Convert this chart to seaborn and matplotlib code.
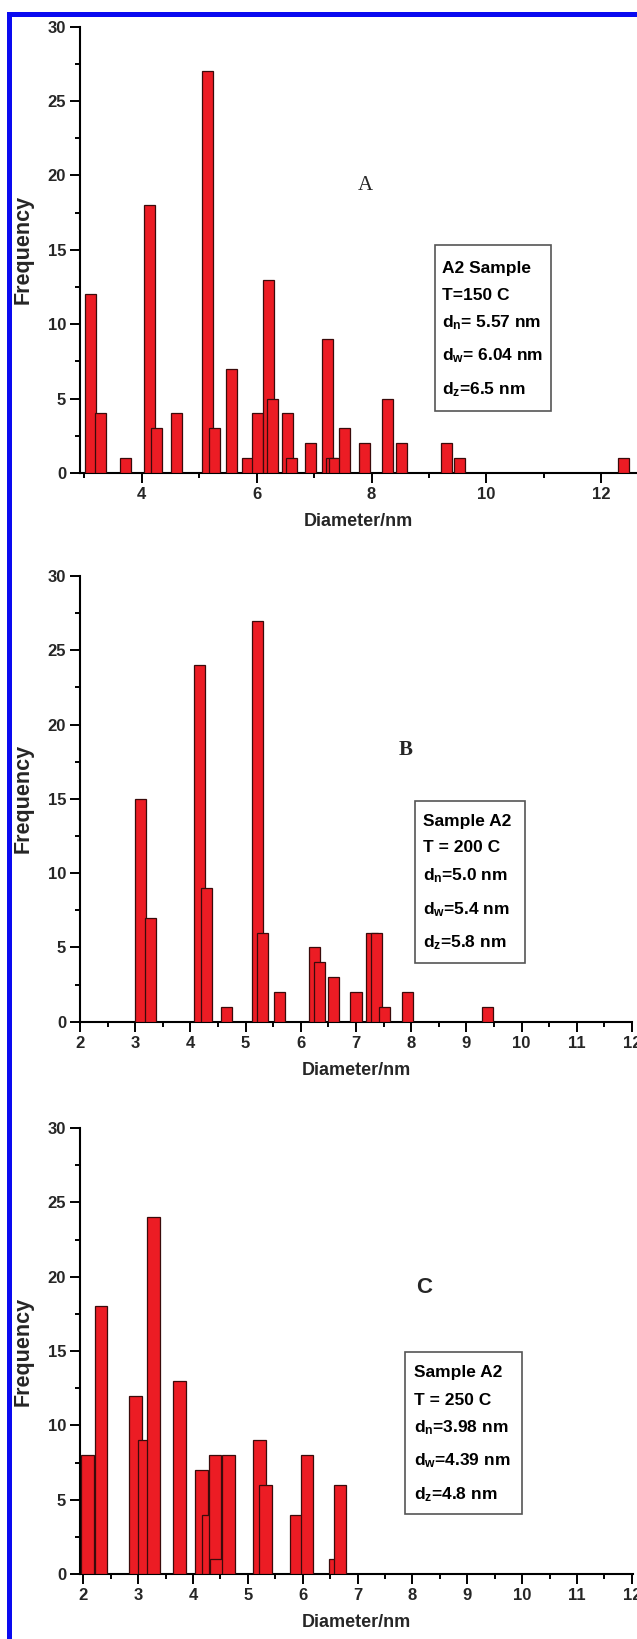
import numpy as np
import matplotlib
matplotlib.use("Agg")
import matplotlib.pyplot as plt
import matplotlib.patches as mpatches
import seaborn as sns

# ---------------- data ----------------
# Panel A (T=150 C)
a_centers = [3.11, 3.28, 3.72, 4.13, 4.26, 4.61, 5.15, 5.27, 5.56, 5.84, 6.02, 6.21, 6.28,
             6.53, 6.61, 6.93, 7.23, 7.31, 7.36, 7.53, 7.87, 8.27, 8.52, 9.31, 9.53, 12.39]
a_counts = [12, 4, 1, 18, 3, 4, 27, 3, 7, 1, 4, 13, 5,
            4, 1, 2, 9, 1, 1, 3, 2, 5, 2, 2, 1, 1]
# Panel B (T=200 C)
b_centers = [3.10, 3.27, 4.16, 4.29, 4.65, 5.21, 5.31, 5.61, 6.25, 6.34, 6.59, 7.00,
             7.29, 7.38, 7.51, 7.93, 9.38]
b_counts = [15, 7, 24, 9, 1, 27, 6, 2, 5, 4, 3, 2, 6, 6, 1, 2, 1]
# Panel C (T=250 C)
c_centers = [2.08, 2.32, 2.95, 3.12, 3.28, 3.75, 4.15, 4.27, 4.40, 4.43, 4.65, 5.21, 5.32,
             5.88, 6.08, 6.60, 6.68]
c_counts = [8, 18, 12, 9, 24, 13, 7, 4, 8, 1, 8, 9, 6, 4, 8, 1, 6]

a_info = ["A2 Sample", "T=150 C", r"d$_n$= 5.57 nm", r"d$_w$= 6.04 nm", r"d$_z$=6.5 nm"]
b_info = ["Sample A2", "T = 200 C", r"d$_n$=5.0 nm", r"d$_w$=5.4 nm", r"d$_z$=5.8 nm"]
c_info = ["Sample A2", "T = 250 C", r"d$_n$=3.98 nm", r"d$_w$=4.39 nm", r"d$_z$=4.8 nm"]

x_label = "Diameter/nm"
y_label = "Frequency"

# ---------------- style ----------------
sns.set_theme(style="ticks")
plt.rcParams["font.family"] = ["Liberation Sans", "DejaVu Sans"]
plt.rcParams["font.weight"] = "bold"
plt.rcParams["mathtext.fontset"] = "custom"
plt.rcParams["mathtext.rm"] = "Liberation Sans:bold"
plt.rcParams["mathtext.it"] = "Liberation Sans:bold"
plt.rcParams["mathtext.bf"] = "Liberation Sans:bold"

W, H = 637, 1639
fig = plt.figure(figsize=(W / 100, H / 100), dpi=100)
fig.patch.set_facecolor("white")

BAR = "#EC1C24"
EDGE = "#3a0b0b"


def make_axes(left, right, y0, y30):
    return fig.add_axes([left / W, 1 - y0 / H, (right - left) / W, (y0 - y30) / H])


def style_axes(ax, xlim, major, minor, box, info, xtext):
    ax.set_xlim(*xlim)
    ax.set_ylim(0, 30)
    for s in ["top", "right"]:
        ax.spines[s].set_visible(False)
    for s in ["left", "bottom"]:
        ax.spines[s].set_linewidth(1.5)
        ax.spines[s].set_color("black")
    ax.set_facecolor("white")
    ax.set_yticks(np.arange(0, 31, 5))
    ax.set_yticks(np.arange(0, 30.1, 2.5), minor=True)
    ax.set_xticks(major)
    ax.set_xticks(minor, minor=True)
    ax.tick_params(axis="both", which="major", direction="out", length=7, width=1.4,
                   labelsize=12, color="black", pad=3)
    ax.tick_params(axis="both", which="minor", direction="out", length=3.5, width=1.4,
                   color="black")
    for lab in ax.get_xticklabels() + ax.get_yticklabels():
        lab.set_fontweight("bold")
    ax.set_xlabel(x_label, fontsize=13, fontweight="bold")
    ax.set_ylabel(y_label, fontsize=15.5, fontweight="bold")
    ax.yaxis.set_label_coords(-0.084, 0.5)
    ax.xaxis.set_label_coords(0.5, -0.09)
    ax.grid(False)
    # info box
    (bx0, bx1, by0, by1) = box
    rect = mpatches.Rectangle((bx0, by0), bx1 - bx0, by1 - by0, transform=ax.transData,
                              facecolor="white", edgecolor="#555555", linewidth=1.2,
                              zorder=5)
    ax.add_patch(rect)
    tx, ys = xtext
    for line, yy in zip(info, ys):
        ax.text(tx, yy, line, fontsize=12.5, fontweight="bold", va="baseline",
                ha="left", zorder=6, color="black")


def draw_bars(ax, centers, counts, width):
    ax.bar(centers, counts, width=width, color=BAR, edgecolor=EDGE, linewidth=0.9,
           align="center", zorder=3)


# Panel A
axA = make_axes(80, 637, 473, 26.7)
draw_bars(axA, a_centers, a_counts, 0.19)
style_axes(axA, (2.925, 12.62), [4, 6, 8, 10, 12], [3, 5, 7, 9, 11],
           (9.1, 11.12, 4.2, 15.3), a_info, (9.23, [13.45, 11.6, 9.8, 7.6, 5.3]))
axA.text(7.89, 19.3, "A", fontsize=15, family="Liberation Serif", fontweight="normal",
         ha="center", va="center")

# Panel B
axB = make_axes(80, 632, 1021.7, 576)
draw_bars(axB, b_centers, b_counts, 0.20)
style_axes(axB, (2, 12), list(range(2, 13)), list(np.arange(2.5, 12, 1.0)),
           (8.07, 10.07, 3.92, 14.84), b_info, (8.21, [13.15, 11.4, 9.55, 7.25, 5.0]))
axB.text(7.9, 18.3, "B", fontsize=15, family="Liberation Serif", fontweight="bold",
         ha="center", va="center")

# Panel C
axC = make_axes(80, 633, 1574, 1128)
draw_bars(axC, c_centers, c_counts, 0.23)
style_axes(axC, (1.94, 12.02), list(range(2, 13)), list(np.arange(2.5, 12, 1.0)),
           (7.87, 10.0, 4.03, 14.9), c_info, (8.02, [13.25, 11.35, 9.55, 7.33, 5.0]))
axC.text(8.22, 19.3, "C", fontsize=16, fontweight="bold", ha="center", va="center")

# blue frame (left and top)
fig.add_artist(mpatches.Rectangle((7 / W, 0), 5 / W, 1 - 12 / H, transform=fig.transFigure,
                                  facecolor="#0a0af0", edgecolor="none"))
fig.add_artist(mpatches.Rectangle((7 / W, 1 - 17 / H), 1 - 7 / W, 5 / H,
                                  transform=fig.transFigure, facecolor="#0a0af0",
                                  edgecolor="none"))

fig.savefig("out.png", dpi=100, facecolor="white")
